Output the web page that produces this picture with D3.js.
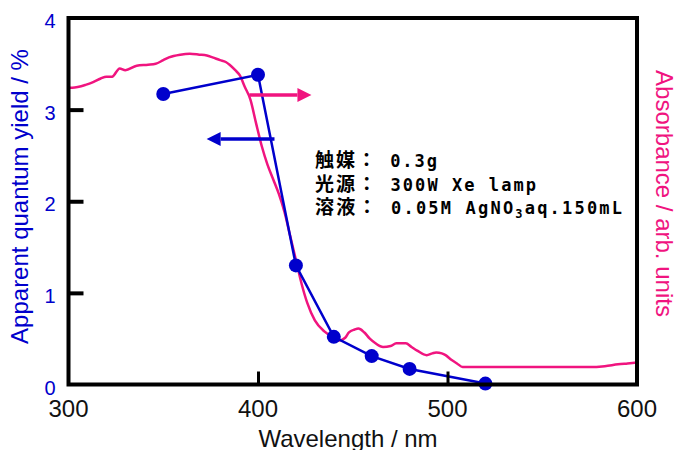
<!DOCTYPE html>
<html>
<head>
<meta charset="utf-8">
<script src="https://cdn.jsdelivr.net/npm/d3@7"></script>
<style>
  body { margin: 0; background: #fff; }
  svg { display: block; }
</style>
</head>
<body>
<div id="plotContainer"></div>
<script>
// quantum yield measured at each wavelength (nm, %)
var yieldWavelengths = [350, 400, 420, 440, 460, 480, 520];
var yieldValues = [3.17, 3.38, 1.30, 0.52, 0.31, 0.17, 0.01];

// absorbance spectrum, arbitrary units
var absWavelengths = [300, 302, 309, 313, 317, 320, 323, 327, 330, 336, 342, 346, 350, 353, 359, 364, 369, 373, 376, 380, 383, 385, 388, 390.5, 393, 396, 399, 402, 405, 408, 411, 414, 417, 420, 423, 426, 430, 435, 440, 443, 446, 448, 451, 453, 456, 459, 462, 466, 470, 473, 478, 481, 484, 489, 492, 494, 497, 499, 502, 505, 508, 512, 540, 575, 583, 590, 595, 600];
var absValues = [3.24, 3.24, 3.27, 3.30, 3.34, 3.36, 3.36, 3.45, 3.43, 3.48, 3.49, 3.50, 3.54, 3.57, 3.60, 3.61, 3.60, 3.59, 3.57, 3.54, 3.52, 3.49, 3.43, 3.37, 3.25, 3.11, 2.85, 2.60, 2.40, 2.24, 2.08, 1.88, 1.62, 1.36, 1.10, 0.89, 0.70, 0.58, 0.51, 0.48, 0.51, 0.57, 0.60, 0.61, 0.57, 0.50, 0.45, 0.41, 0.42, 0.45, 0.45, 0.41, 0.37, 0.32, 0.34, 0.35, 0.34, 0.32, 0.27, 0.23, 0.19, 0.19, 0.19, 0.19, 0.20, 0.22, 0.23, 0.24];

// axis ticks
var xTicks = [300, 400, 500, 600];
var yTicks = [0, 1, 2, 3, 4];

// conditions box
var conditionLabels = ["触媒：", "光源：", "溶液："];
var conditionTexts = [" 0.3g", " 300W Xe lamp", " 0.05M AgNO|3|aq.150mL"];

var blue = "#0000cc";
var pink = "#f0147f";

var width = 679, height = 450;
var margin = {left: 68.5, right: 637, top: 18, bottom: 384.5}; // plot frame in pixels

var svg = d3.select("#plotContainer")
  .append("svg")
  .attr("width", width)
  .attr("height", height);

var xScale = d3.scaleLinear().domain([300, 600]).range([margin.left, margin.right]);
var yScale = d3.scaleLinear().domain([0, 4]).range([margin.bottom, margin.top]);
// absorbance has its own (unlabelled) scale on the right
var absScale = d3.scaleLinear().domain([0, 4]).range([margin.bottom, margin.top]);

/****** absorbance curve ******/
var absLine = d3.line()
  .x(function (d) { return xScale(d[0]); })
  .y(function (d) { return absScale(d[1]); })
  .curve(d3.curveMonotoneX);

svg.append("path")
  .datum(d3.zip(absWavelengths, absValues))
  .attr("d", absLine)
  .attr("fill", "none")
  .attr("stroke", pink)
  .attr("stroke-width", 2.5);

/****** quantum yield line + dots ******/
var yieldData = d3.zip(yieldWavelengths, yieldValues);

svg.append("path")
  .datum(yieldData)
  .attr("d", d3.line()
    .x(function (d) { return xScale(d[0]); })
    .y(function (d) { return yScale(d[1]); }))
  .attr("fill", "none")
  .attr("stroke", blue)
  .attr("stroke-width", 2.5);

svg.selectAll("circle.dot")
  .data(yieldData)
  .enter().append("circle")
  .attr("class", "dot")
  .attr("cx", function (d) { return xScale(d[0]); })
  .attr("cy", function (d) { return yScale(d[1]); })
  .attr("r", 7)
  .attr("fill", blue);

/****** arrows pointing at each axis ******/
function arrow(x1, x2, yv, color) {
  var px1 = xScale(x1), px2 = xScale(x2), py = yScale(yv);
  var dir = px2 > px1 ? 1 : -1;
  var headLen = 14, headHalf = 7;
  svg.append("line")
    .attr("x1", px1).attr("x2", px2 - dir * headLen)
    .attr("y1", py).attr("y2", py)
    .attr("stroke", color)
    .attr("stroke-width", 3.5);
  svg.append("path")
    .attr("d", "M" + px2 + "," + py +
      "L" + (px2 - dir * headLen) + "," + (py - headHalf) +
      "L" + (px2 - dir * headLen) + "," + (py + headHalf) + "Z")
    .attr("fill", color);
}
arrow(395.5, 428.2, 3.16, pink);
arrow(408.7, 372.9, 2.68, blue);

/****** frame and ticks ******/
svg.append("rect")
  .attr("x", margin.left).attr("y", margin.top)
  .attr("width", margin.right - margin.left).attr("height", margin.bottom - margin.top)
  .attr("fill", "none")
  .attr("stroke", "#000")
  .attr("stroke-width", 4);

var xAxis = d3.axisTop(xScale).tickValues(xTicks.slice(1, -1)).tickSize(13).tickFormat("");
var gx = svg.append("g")
  .attr("transform", "translate(0," + margin.bottom + ")")
  .call(xAxis);
gx.select(".domain").remove();
gx.selectAll("line").attr("stroke", "#000").attr("stroke-width", 3);

var yAxis = d3.axisRight(yScale).tickValues(yTicks.slice(1, -1)).tickSize(15).tickFormat("");
var gy = svg.append("g")
  .attr("transform", "translate(" + margin.left + ",0)")
  .call(yAxis);
gy.select(".domain").remove();
gy.selectAll("line").attr("stroke", "#000").attr("stroke-width", 4);

// tick labels
svg.selectAll("text.xlab")
  .data(xTicks)
  .enter().append("text")
  .attr("class", "xlab")
  .attr("x", function (d) { return xScale(d); })
  .attr("y", 417)
  .attr("text-anchor", "middle")
  .attr("font-family", "Liberation Sans, Arial, sans-serif")
  .attr("font-size", 24)
  .attr("fill", "#111")
  .text(function (d) { return d; });

svg.selectAll("text.ylab")
  .data(yTicks)
  .enter().append("text")
  .attr("class", "ylab")
  .attr("x", 55.5)
  .attr("y", function (d) { return yScale(d) + 10; })
  .attr("text-anchor", "end")
  .attr("font-family", "Liberation Sans, Arial, sans-serif")
  .attr("font-size", 20)
  .attr("fill", blue)
  .text(function (d) { return d; });

// axis titles
svg.append("text")
  .attr("transform", "translate(348,447)")
  .attr("text-anchor", "middle")
  .attr("font-family", "Liberation Sans, Arial, sans-serif")
  .attr("font-size", 24)
  .attr("fill", "#111")
  .text("Wavelength / nm");

svg.append("text")
  .attr("transform", "translate(28,196.5) rotate(-90)")
  .attr("text-anchor", "middle")
  .attr("font-family", "Liberation Sans, Arial, sans-serif")
  .attr("font-size", 24)
  .attr("fill", blue)
  .text("Apparent quantum yield / %");

svg.append("text")
  .attr("transform", "translate(656,193.5) rotate(90)")
  .attr("text-anchor", "middle")
  .attr("font-family", "Liberation Sans, Arial, sans-serif")
  .attr("font-size", 24)
  .attr("fill", pink)
  .text("Absorbance / arb. units");

/****** experiment conditions ******/
var lineWidths = [122, 221, 307];
conditionLabels.forEach(function (lab, i) {
  var t = svg.append("text")
    .attr("x", 315)
    .attr("y", 167 + i * 23.5)
    .attr("font-family", "'DejaVu Sans Mono', 'Noto Sans CJK JP', monospace")
    .attr("font-weight", "bold")
    .attr("font-size", 17)
    .attr("fill", "#000")
    .attr("textLength", lineWidths[i])
    .attr("lengthAdjust", "spacing");
  t.append("tspan").attr("font-family", "Noto Sans CJK JP").attr("font-size", 19).text(lab);
  var parts = conditionTexts[i].split("|");
  t.append("tspan").text(parts[0]);
  if (parts.length > 1) {
    t.append("tspan").attr("font-size", 12).attr("dy", 4).text(parts[1]);
    t.append("tspan").attr("dy", -4).text(parts[2]);
  }
});
</script>
</body>
</html>
